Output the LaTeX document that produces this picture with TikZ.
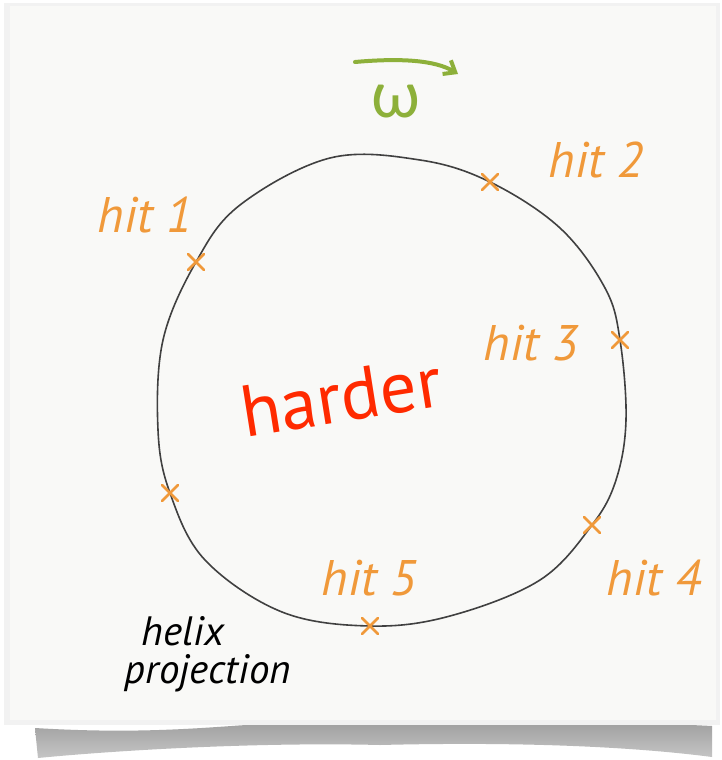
\documentclass[tikz,border=0pt]{standalone}
\usepackage{fontspec}
\setmainfont{PT Sans}[Ligatures=NoCommon]
\newfontfamily\greekfont{Lato}
\usetikzlibrary{arrows.meta,shadings}
\definecolor{paper}{HTML}{F9F9F7}
\definecolor{hitorange}{HTML}{F0993A}
\definecolor{omegagreen}{HTML}{8DB03A}
\definecolor{hardred}{HTML}{FF2A00}
\tikzset{
  hitlabel/.style={text=hitorange, font=\fontsize{50}{54}\selectfont\itshape, inner sep=0pt},
  hitmark/.style={draw=hitorange, line width=2.8pt, line cap=round},
  notelabel/.style={font=\fontsize{41}{42}\selectfont\itshape, inner sep=0pt},
}
\begin{document}
\begin{tikzpicture}[x=1pt,y=-1pt]
\useasboundingbox (0,0) rectangle (722,760);
\fill[white] (0,0) rectangle (722,760);
% shadow band
\shade[top color=gray!80, bottom color=gray!45] (35,728) .. controls (200,738) and (260,716) .. (380,722) .. controls (500,726) and (600,720) .. (712,726) -- (712,757) .. controls (620,745) and (500,742) .. (380,745) .. controls (260,742) and (120,750) .. (38,758) -- cycle;
% paper
\fill[gray!10] (4,3) rectangle (720,725);
\fill[paper] (10,6) rectangle (716,720);
% circle
\draw[line width=1.6pt, color=black!75] plot[smooth cycle, tension=0.6] coordinates {
 (196,262) (240,205) (330,158) (420,160) (490,182) (560,228) (605,288) (620,340) (626,420) (616,480) (592,525) (540,580) (450,616) (370,626) (282,612) (205,560) (170,493) (158,430) (163,340)};
% hit marks
\foreach \n/\p in {m1/{196,262}, m2/{490,182}, m3/{620,340}, m4/{592,525}, m5/{370,626}, m6/{170,493}} {
  \coordinate (\n) at (\p);
  \draw[hitmark] ([shift={(-8,-8)}]\n) -- ([shift={(8,8)}]\n);
  \draw[hitmark] ([shift={(-8,8)}]\n) -- ([shift={(8,-8)}]\n);
}
% labels
\node[hitlabel] (h1) at (145,215) {hit 1};
\node[hitlabel] (h2) at (596,160) {hit 2};
\node[hitlabel] (h3) at (531,343) {hit 3};
\node[hitlabel] (h4) at (654,578) {hit 4};
\node[hitlabel] (h5) at (369,578) {hit 5};
\node[text=hardred, font=\fontsize{73}{78}\selectfont, rotate=9, inner sep=0pt] (hard) at (341,397) {harder};
\node[notelabel] (helix) at (183,631) {helix};
\node[notelabel] (proj) at (208,673) {projection};
% omega
\node[text=omegagreen, font=\greekfont\fontsize{64}{68}\selectfont, inner sep=0pt] (omega) at (396,102) {ω};
\coordinate (wa) at (355,62);
\coordinate (wb) at (458,74);
\draw[omegagreen, line width=4pt, line cap=round, -{Straight Barb[length=10pt,width=16pt]}] (wa) .. controls (400,58) and (435,60) .. (wb);
\end{tikzpicture}
\end{document}
